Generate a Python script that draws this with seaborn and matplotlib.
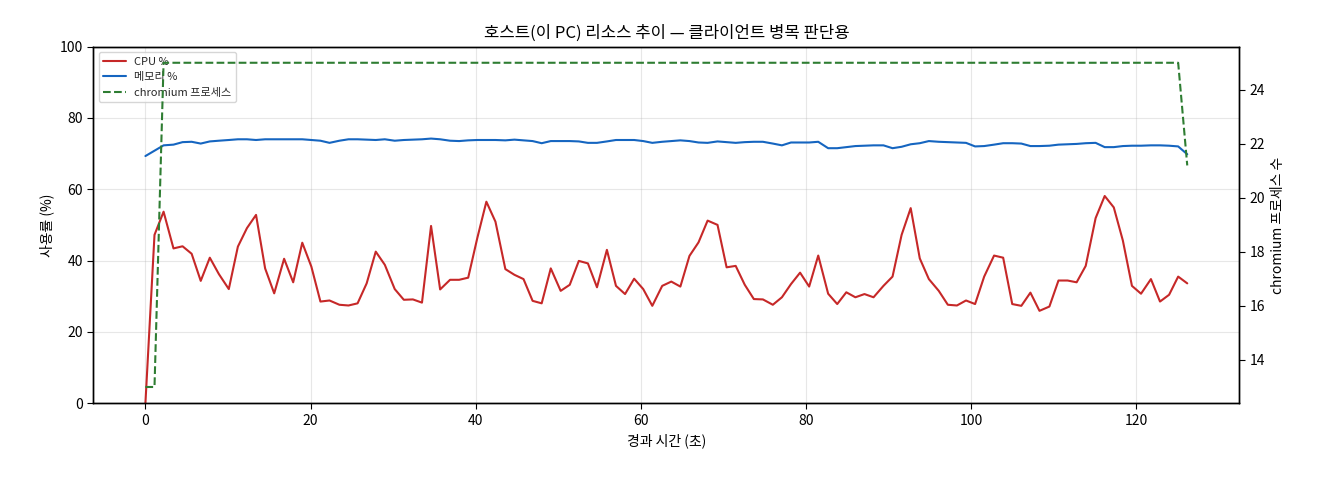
import numpy as np
import pandas as pd
import seaborn as sns
import matplotlib
matplotlib.use("Agg")
import matplotlib.pyplot as plt

# 경과 시간 (초)
elapsed = [
    0.0, 1.1, 2.2, 3.4, 4.5, 5.6, 6.7, 7.8, 8.9, 10.1,
    11.2, 12.3, 13.4, 14.5, 15.6, 16.8, 17.9, 19.0, 20.1, 21.2,
    22.3, 23.5, 24.6, 25.7, 26.8, 27.9, 29.0, 30.2, 31.3, 32.4,
    33.5, 34.6, 35.7, 36.9, 38.0, 39.1, 40.2, 41.3, 42.4, 43.6,
    44.7, 45.8, 46.9, 48.0, 49.1, 50.3, 51.4, 52.5, 53.6, 54.7,
    55.9, 57.0, 58.1, 59.2, 60.3, 61.4, 62.6, 63.7, 64.8, 65.9,
    67.0, 68.1, 69.3, 70.4, 71.5, 72.6, 73.7, 74.8, 76.0, 77.1,
    78.2, 79.3, 80.4, 81.5, 82.7, 83.8, 84.9, 86.0, 87.1, 88.2,
    89.4, 90.5, 91.6, 92.7, 93.8, 94.9, 96.1, 97.2, 98.3, 99.4,
    100.5, 101.6, 102.8, 103.9, 105.0, 106.1, 107.2, 108.3, 109.5, 110.6,
    111.7, 112.8, 113.9, 115.1, 116.2, 117.3, 118.4, 119.5, 120.6, 121.8,
    122.9, 124.0, 125.1, 126.2,
]

cpu_pct = [
    0.0, 47.2, 53.7, 43.4, 44.0, 41.9, 34.3, 40.8, 36.2, 32.0,
    43.9, 49.1, 52.8, 37.8, 30.8, 40.5, 33.9, 45.0, 38.3, 28.5,
    28.8, 27.6, 27.4, 28.0, 33.6, 42.5, 38.8, 32.0, 29.0, 29.1,
    28.2, 49.7, 31.9, 34.6, 34.6, 35.2, 46.3, 56.5, 50.9, 37.6,
    36.0, 34.8, 28.7, 28.0, 37.8, 31.5, 33.2, 39.9, 39.2, 32.5,
    43.0, 32.9, 30.6, 34.9, 32.0, 27.3, 32.9, 34.1, 32.7, 41.3,
    45.1, 51.2, 50.0, 38.1, 38.5, 33.2, 29.2, 29.1, 27.6, 29.7,
    33.4, 36.6, 32.7, 41.4, 30.7, 27.8, 31.1, 29.7, 30.6, 29.7,
    32.9, 35.5, 47.2, 54.7, 40.6, 34.8, 31.5, 27.6, 27.4, 28.8,
    27.8, 35.5, 41.4, 40.8, 27.8, 27.3, 31.0, 25.9, 27.1, 34.4,
    34.4, 33.9, 38.5, 51.9, 58.1, 54.9, 45.6, 32.9, 30.7, 34.8,
    28.5, 30.4, 35.5, 33.6,
]

mem_pct = [
    69.3, 70.8, 72.3, 72.5, 73.2, 73.3, 72.8, 73.4, 73.6, 73.8,
    74.0, 74.0, 73.8, 74.0, 74.0, 74.0, 74.0, 74.0, 73.8, 73.6,
    73.0, 73.6, 74.0, 74.0, 73.9, 73.8, 74.0, 73.6, 73.8, 73.9,
    74.0, 74.2, 74.0, 73.6, 73.5, 73.7, 73.8, 73.8, 73.8, 73.7,
    73.9, 73.7, 73.5, 72.9, 73.5, 73.5, 73.5, 73.4, 73.0, 73.0,
    73.4, 73.8, 73.8, 73.8, 73.5, 73.0, 73.3, 73.5, 73.7, 73.5,
    73.1, 73.0, 73.4, 73.2, 73.0, 73.2, 73.3, 73.3, 72.8, 72.3,
    73.1, 73.1, 73.1, 73.3, 71.5, 71.5, 71.8, 72.1, 72.2, 72.3,
    72.3, 71.5, 71.9, 72.6, 72.9, 73.5, 73.3, 73.2, 73.1, 73.0,
    72.0, 72.1, 72.5, 72.9, 72.9, 72.8, 72.1, 72.1, 72.2, 72.5,
    72.6, 72.7, 72.9, 73.0, 71.8, 71.8, 72.1, 72.2, 72.2, 72.3,
    72.3, 72.2, 72.0, 69.8,
]

chromium_procs = [13, 13] + [25] * 111 + [21.2]

df = pd.DataFrame({
    "elapsed": elapsed,
    "cpu": cpu_pct,
    "mem": mem_pct,
    "chromium": chromium_procs,
})

sns.set_style("white")
plt.rcParams["font.family"] = ["Noto Sans CJK KR", "DejaVu Sans"]
plt.rcParams["axes.unicode_minus"] = False

fig, ax = plt.subplots(figsize=(13.2, 4.8), dpi=100)
fig.subplots_adjust(left=0.0707, right=0.9389, top=0.903, bottom=0.16)

sns.lineplot(data=df, x="elapsed", y="cpu", ax=ax, color="#c62828", lw=1.5, label="CPU %")
sns.lineplot(data=df, x="elapsed", y="mem", ax=ax, color="#1565c0", lw=1.5, label="메모리 %")
ax.set_ylim(0, 100)
ax.set_xlabel("경과 시간 (초)", fontsize=10, color="black")
ax.set_ylabel("사용률 (%)", fontsize=10, color="black")
ax.set_title("호스트(이 PC) 리소스 추이 — 클라이언트 병목 판단용", fontsize=12, color="black")
ax.grid(True, color="#b0b0b0", alpha=0.3, lw=0.8)
ax.tick_params(axis="both", labelsize=10, direction="out", length=4,
               left=True, bottom=True, colors="black")

ax2 = ax.twinx()
sns.lineplot(data=df, x="elapsed", y="chromium", ax=ax2, color="#2e7d32",
             lw=1.5, linestyle="--", label="chromium 프로세스")
ax2.set_ylabel("chromium 프로세스 수", fontsize=10, color="black")
ax2.tick_params(axis="y", labelsize=10, direction="out", length=4, right=True, colors="black")
ax2.grid(False)

for a in (ax, ax2):
    for s in a.spines.values():
        s.set_color("black")
        s.set_linewidth(1.0)

h1, l1 = ax.get_legend_handles_labels()
h2, l2 = ax2.get_legend_handles_labels()
ax2.get_legend().remove()
ax.legend(h1 + h2, l1 + l2, loc="upper left", fontsize=8, handlelength=2.0)

fig.savefig("out.png", dpi=100)
